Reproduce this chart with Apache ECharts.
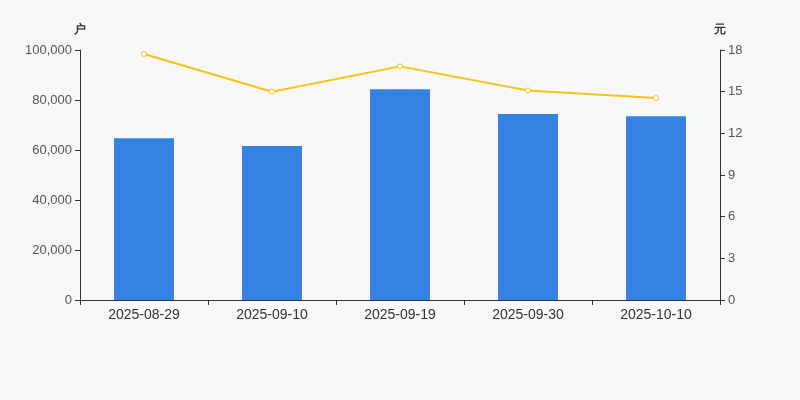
<!DOCTYPE html>
<html><head><meta charset="utf-8">
<script src="https://cdn.jsdelivr.net/npm/echarts@6/dist/echarts.min.js"></script>
<style>html,body{margin:0;padding:0;background:#f8f8f8}#c{width:800px;height:400px}</style>
</head><body><div id="c"></div>
<script>
const categories = ['2025-08-29','2025-09-10','2025-09-19','2025-09-30','2025-10-10'];
const holders = [64700, 61600, 84300, 74400, 73500];
const prices = [17.71, 15.0, 16.82, 15.09, 14.54];
const leftTicks = {min: 0, max: 100000, interval: 20000};
const rightTicks = {min: 0, max: 18, interval: 3};

const chart = echarts.init(document.getElementById('c'));
const axisLine = {show: true, lineStyle: {color: '#333'}};
const axisTick = {show: true, lineStyle: {color: '#333'}};
const font = 'Arial, Liberation Sans';
chart.setOption({
  backgroundColor: '#f8f8f8',
  animation: false,
  grid: {left: 80, right: 80, top: 50, bottom: 100},
  xAxis: {
    type: 'category', data: categories,
    axisLine: axisLine, axisTick: axisTick,
    axisLabel: {color: '#333', fontSize: 14, fontFamily: font, margin: 8}
  },
  yAxis: [
    Object.assign({type: 'value', name: '户', nameGap: 14, nameTextStyle: {color:'#333', fontSize: 12, fontWeight:'bold', align:'center'}}, leftTicks,
      {axisLine: axisLine, axisTick: axisTick, splitLine: {show:false},
       axisLabel: {color:'#555', fontSize:13, fontFamily: font, formatter: v => v.toLocaleString('en-US')}}),
    Object.assign({type: 'value', name: '元', nameGap: 14, nameTextStyle: {color:'#333', fontSize: 12, fontWeight:'bold', align:'center'}}, rightTicks,
      {axisLine: axisLine, axisTick: axisTick, splitLine: {show:false},
       axisLabel: {color:'#555', fontSize:13, fontFamily: font}})
  ],
  series: [
    {type: 'bar', data: holders, barWidth: 60, itemStyle: {color: '#3482e2'}, yAxisIndex: 0},
    {type: 'line', data: prices, yAxisIndex: 1, symbol: 'circle', symbolSize: 5,
     lineStyle: {color: '#f7c31a', width: 2}, itemStyle: {color: '#fff', borderColor: '#f7c31a', borderWidth: 1}}
  ]
});
</script></body></html>
